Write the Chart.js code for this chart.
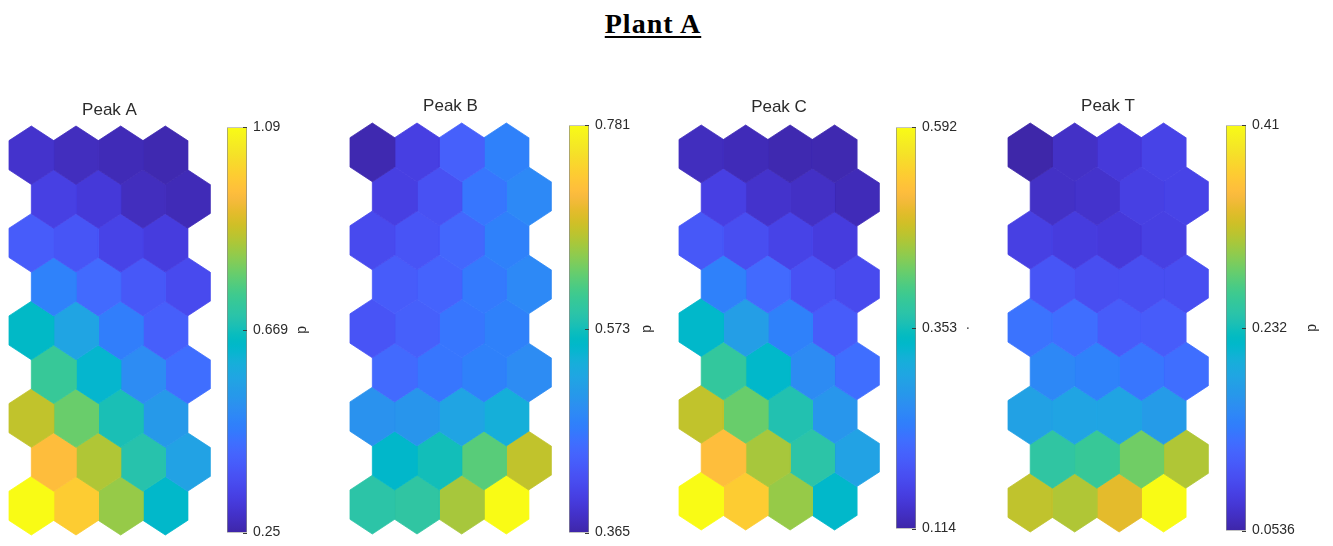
<!DOCTYPE html>
<html>
<head>
<meta charset="utf-8">
<script src="https://cdn.jsdelivr.net/npm/chart.js@4.4.0/dist/chart.umd.min.js"></script>
<style>
  html, body { margin: 0; padding: 0; background: #ffffff; }
  #page { position: relative; width: 1333px; height: 546px; overflow: hidden; background: #ffffff; }
  #plantTitle {
    position: absolute; left: 0; width: 1306px; top: 10px; text-align: center;
    font-family: "Liberation Serif", "DejaVu Serif", serif; font-weight: bold;
    font-size: 28px; line-height: 28px; letter-spacing: 1px; color: #000;
    text-decoration: underline; text-decoration-thickness: 2px; text-underline-offset: 3px;
  }
  canvas { position: absolute; }
</style>
</head>
<body>
<div id="page">
  <div id="plantTitle">Plant A</div>
</div>
<script>
// Component-plane titles
const panelTitles = ['Peak A', 'Peak B', 'Peak C', 'Peak T'];

// Neuron weights, 9 rows (top to bottom) x 4 columns; even rows are offset right by half a cell
const peakA = [
  [0.292, 0.275, 0.267, 0.258],
  [0.326, 0.309, 0.275, 0.267],
  [0.393, 0.376, 0.334, 0.317],
  [0.477, 0.426, 0.384, 0.351],
  [0.645, 0.569, 0.468, 0.401],
  [0.729, 0.628, 0.502, 0.435],
  [0.872, 0.788, 0.678, 0.536],
  [0.956, 0.855, 0.695, 0.561],
  [1.090, 0.989, 0.830, 0.636]
];
const peakB = [
  [0.369, 0.402, 0.440, 0.477],
  [0.402, 0.423, 0.465, 0.486],
  [0.415, 0.427, 0.448, 0.477],
  [0.436, 0.444, 0.469, 0.486],
  [0.427, 0.440, 0.465, 0.477],
  [0.452, 0.465, 0.477, 0.490],
  [0.498, 0.502, 0.523, 0.540],
  [0.556, 0.573, 0.623, 0.673],
  [0.590, 0.594, 0.660, 0.781]
];
const peakC = [
  [0.128, 0.124, 0.119, 0.119],
  [0.157, 0.138, 0.133, 0.124],
  [0.190, 0.176, 0.162, 0.152],
  [0.243, 0.214, 0.181, 0.171],
  [0.334, 0.286, 0.243, 0.195],
  [0.382, 0.334, 0.257, 0.219],
  [0.468, 0.420, 0.363, 0.272],
  [0.516, 0.453, 0.372, 0.291],
  [0.592, 0.535, 0.444, 0.334]
];
const peakT = [
  [0.054, 0.068, 0.079, 0.089],
  [0.068, 0.071, 0.086, 0.089],
  [0.086, 0.082, 0.079, 0.086],
  [0.107, 0.100, 0.100, 0.100],
  [0.136, 0.132, 0.114, 0.114],
  [0.157, 0.150, 0.139, 0.132],
  [0.185, 0.189, 0.189, 0.178],
  [0.250, 0.257, 0.285, 0.310],
  [0.317, 0.310, 0.335, 0.410]
];

// Colorbar tick labels (min, middle, max) and colorbar titles
const ticksA = ['0.25', '0.669', '1.09'];
const ticksB = ['0.365', '0.573', '0.781'];
const ticksC = ['0.114', '0.353', '0.592'];
const ticksT = ['0.0536', '0.232', '0.41'];
const colorbarTitles = ['d', 'd', '\u00b7', 'd'];

const planes = [peakA, peakB, peakC, peakT];
const planeTicks = [ticksA, ticksB, ticksC, ticksT];

// Placement of each panel on the page (pixels)
const panelLayout = [
  { hexLeft: 9,    hexTop: 126, hexW: 201, hexH: 409, titleY: 110, cbLeft: 227,  cbTop: 125, cbBottom: 535, labelX: 302 },
  { hexLeft: 350,  hexTop: 123, hexW: 201, hexH: 411, titleY: 106, cbLeft: 569,  cbTop: 123, cbBottom: 535, labelX: 647 },
  { hexLeft: 679,  hexTop: 125, hexW: 200, hexH: 405, titleY: 107, cbLeft: 896,  cbTop: 125, cbBottom: 531, labelX: 968 },
  { hexLeft: 1008, hexTop: 123, hexW: 200, hexH: 409, titleY: 106, cbLeft: 1226, cbTop: 123, cbBottom: 533, labelX: 1312 }
];
const CB_WIDTH = 20;

// Parula colormap (64 entries, 0..1 RGB)
const PARULA = [
  [0.2422,0.1504,0.6603],[0.2504,0.1650,0.7076],[0.2578,0.1818,0.7511],[0.2647,0.1978,0.7952],
  [0.2706,0.2147,0.8364],[0.2751,0.2342,0.8710],[0.2783,0.2559,0.8991],[0.2803,0.2782,0.9221],
  [0.2813,0.3006,0.9414],[0.2810,0.3228,0.9579],[0.2795,0.3447,0.9717],[0.2760,0.3667,0.9829],
  [0.2699,0.3892,0.9906],[0.2602,0.4123,0.9952],[0.2440,0.4358,0.9988],[0.2206,0.4603,0.9973],
  [0.1963,0.4847,0.9892],[0.1834,0.5074,0.9798],[0.1786,0.5289,0.9682],[0.1764,0.5499,0.9520],
  [0.1687,0.5703,0.9359],[0.1540,0.5902,0.9218],[0.1460,0.6091,0.9079],[0.1380,0.6276,0.8973],
  [0.1248,0.6459,0.8883],[0.1113,0.6635,0.8763],[0.0952,0.6798,0.8598],[0.0689,0.6948,0.8394],
  [0.0297,0.7082,0.8163],[0.0036,0.7203,0.7917],[0.0067,0.7312,0.7660],[0.0433,0.7411,0.7394],
  [0.0964,0.7500,0.7120],[0.1408,0.7584,0.6842],[0.1717,0.7670,0.6554],[0.1938,0.7758,0.6251],
  [0.2161,0.7843,0.5923],[0.2470,0.7918,0.5567],[0.2906,0.7973,0.5188],[0.3406,0.8008,0.4789],
  [0.3909,0.8029,0.4354],[0.4456,0.8024,0.3909],[0.5044,0.7993,0.3480],[0.5616,0.7942,0.3045],
  [0.6174,0.7876,0.2612],[0.6720,0.7793,0.2227],[0.7242,0.7698,0.1910],[0.7738,0.7598,0.1646],
  [0.8203,0.7498,0.1535],[0.8634,0.7406,0.1596],[0.9035,0.7330,0.1774],[0.9393,0.7288,0.2100],
  [0.9728,0.7298,0.2394],[0.9956,0.7434,0.2371],[0.9970,0.7659,0.2199],[0.9952,0.7893,0.2028],
  [0.9892,0.8136,0.1885],[0.9786,0.8386,0.1766],[0.9676,0.8639,0.1643],[0.9610,0.8890,0.1537],
  [0.9597,0.9135,0.1423],[0.9628,0.9373,0.1265],[0.9691,0.9606,0.1064],[0.9769,0.9839,0.0805]
];

function parula(t) {
  t = Math.max(0, Math.min(1, t));
  const f = t * (PARULA.length - 1);
  const i = Math.min(PARULA.length - 2, Math.floor(f));
  const w = f - i;
  const a = PARULA[i], b = PARULA[i + 1];
  const c = a.map((v, k) => Math.round(255 * (v + (b[k] - v) * w)));
  return `rgb(${c[0]},${c[1]},${c[2]})`;
}

// Hexagon outline around a cell centre, in grid units (row spacing = 1, column spacing = 1)
function hexOutline(cx, cy) {
  return [
    { x: cx,       y: cy - 2 / 3 },
    { x: cx + 0.5, y: cy - 1 / 3 },
    { x: cx + 0.5, y: cy + 1 / 3 },
    { x: cx,       y: cy + 2 / 3 },
    { x: cx - 0.5, y: cy + 1 / 3 },
    { x: cx - 0.5, y: cy - 1 / 3 },
    { x: cx,       y: cy - 2 / 3 }
  ];
}

function makeCanvas(left, top, width, height) {
  const cv = document.createElement('canvas');
  cv.width = width; cv.height = height;
  cv.style.left = left + 'px'; cv.style.top = top + 'px';
  cv.style.width = width + 'px'; cv.style.height = height + 'px';
  document.getElementById('page').appendChild(cv);
  return cv;
}

const TEXT_COLOR = '#2b2b2b';
const TITLE_FONT = { family: '"Liberation Sans", Arial, sans-serif', size: 17, lineHeight: 1.2 };
const TICK_FONT = { family: '"Liberation Sans", Arial, sans-serif', size: 14, lineHeight: 1.2 };

// Small inward tick marks on the colorbar's right edge
const colorbarTickMarks = {
  id: 'colorbarTickMarks',
  afterDatasetsDraw(chart) {
    const y = chart.scales.y;
    const area = chart.chartArea;
    const ctx = chart.ctx;
    ctx.save();
    ctx.strokeStyle = '#3a3a3a';
    ctx.lineWidth = 1;
    y.ticks.forEach(t => {
      const py = Math.round(y.getPixelForValue(t.value)) + 0.5;
      ctx.beginPath();
      ctx.moveTo(area.right - 4, py);
      ctx.lineTo(area.right, py);
      ctx.stroke();
    });
    ctx.restore();
  }
};

planes.forEach((plane, p) => {
  const L = panelLayout[p];
  const vmin = Number(planeTicks[p][0]);
  const vmax = Number(planeTicks[p][planeTicks[p].length - 1]);

  // ---- hexagonal component plane ----
  const pad = 4;
  const titleBox = TITLE_FONT.size * TITLE_FONT.lineHeight;
  const canvasTop = Math.round(L.titleY - titleBox / 2);
  const canvasH = (L.hexTop + L.hexH + pad) - canvasTop;
  const canvasW = L.hexW + 2 * pad;
  const cv = makeCanvas(L.hexLeft - pad, canvasTop, canvasW, canvasH);

  const datasets = [];
  plane.forEach((row, r) => {
    row.forEach((v, c) => {
      const col = parula((v - vmin) / (vmax - vmin));
      datasets.push({
        data: hexOutline(c + (r % 2 ? 0.5 : 0), r),
        showLine: true,
        fill: 'shape',
        backgroundColor: col,
        borderColor: col,
        borderWidth: 0.8,
        pointRadius: 0,
        pointHoverRadius: 0,
        tension: 0,
        clip: false
      });
    });
  });

  new Chart(cv, {
    type: 'scatter',
    data: { datasets },
    options: {
      responsive: false,
      animation: false,
      devicePixelRatio: 1,
      events: [],
      layout: { padding: { left: pad, right: pad, top: 0, bottom: pad } },
      plugins: {
        legend: { display: false },
        tooltip: { enabled: false },
        title: {
          display: true,
          text: panelTitles[p],
          color: TEXT_COLOR,
          font: { ...TITLE_FONT, weight: 'normal' },
          padding: { top: 0, bottom: L.hexTop - canvasTop - titleBox }
        }
      },
      scales: {
        x: { type: 'linear', min: -0.5, max: 4, display: false },
        y: { type: 'linear', min: -2 / 3, max: 8 + 2 / 3, reverse: true, display: false }
      }
    }
  });

  // ---- colorbar ----
  const cbPadV = 12;
  const cbCanvasW = Math.round(L.labelX - L.cbLeft + TICK_FONT.size * TICK_FONT.lineHeight / 2);
  const cbCanvas = makeCanvas(L.cbLeft, L.cbTop - cbPadV, cbCanvasW, (L.cbBottom - L.cbTop) + 2 * cbPadV);
  const tickValues = planeTicks[p].map(Number);

  new Chart(cbCanvas, {
    type: 'bar',
    data: {
      labels: [''],
      datasets: [{
        data: [[vmin, vmax]],
        backgroundColor(ctx) {
          const area = ctx.chart.chartArea;
          if (!area) return 'rgba(0,0,0,0)';
          const g = ctx.chart.ctx.createLinearGradient(0, area.bottom, 0, area.top);
          PARULA.forEach((_, i) => g.addColorStop(i / (PARULA.length - 1), parula(i / (PARULA.length - 1))));
          return g;
        },
        borderColor: '#8a8a8a',
        borderWidth: 1,
        borderSkipped: false,
        barPercentage: 1,
        categoryPercentage: 1
      }]
    },
    options: {
      responsive: false,
      animation: false,
      devicePixelRatio: 1,
      events: [],
      layout: { padding: { left: 0, right: 0, top: cbPadV, bottom: cbPadV } },
      plugins: { legend: { display: false }, tooltip: { enabled: false } },
      scales: {
        x: { display: false, offset: true },
        y: {
          type: 'linear',
          position: 'right',
          min: vmin,
          max: vmax,
          grid: { display: false, drawTicks: false },
          border: { display: false },
          afterBuildTicks(scale) { scale.ticks = tickValues.map(v => ({ value: v })); },
          afterFit(scale) { scale.width = cbCanvasW - CB_WIDTH; },
          ticks: {
            autoSkip: false,
            padding: 6,
            color: TEXT_COLOR,
            font: TICK_FONT,
            callback(value) {
              const i = tickValues.indexOf(value);
              return i >= 0 ? planeTicks[p][i] : '';
            }
          },
          title: {
            display: true,
            text: colorbarTitles[p],
            color: TEXT_COLOR,
            font: TICK_FONT,
            padding: 0
          }
        }
      }
    },
    plugins: [colorbarTickMarks]
  });
});
</script>
</body>
</html>
